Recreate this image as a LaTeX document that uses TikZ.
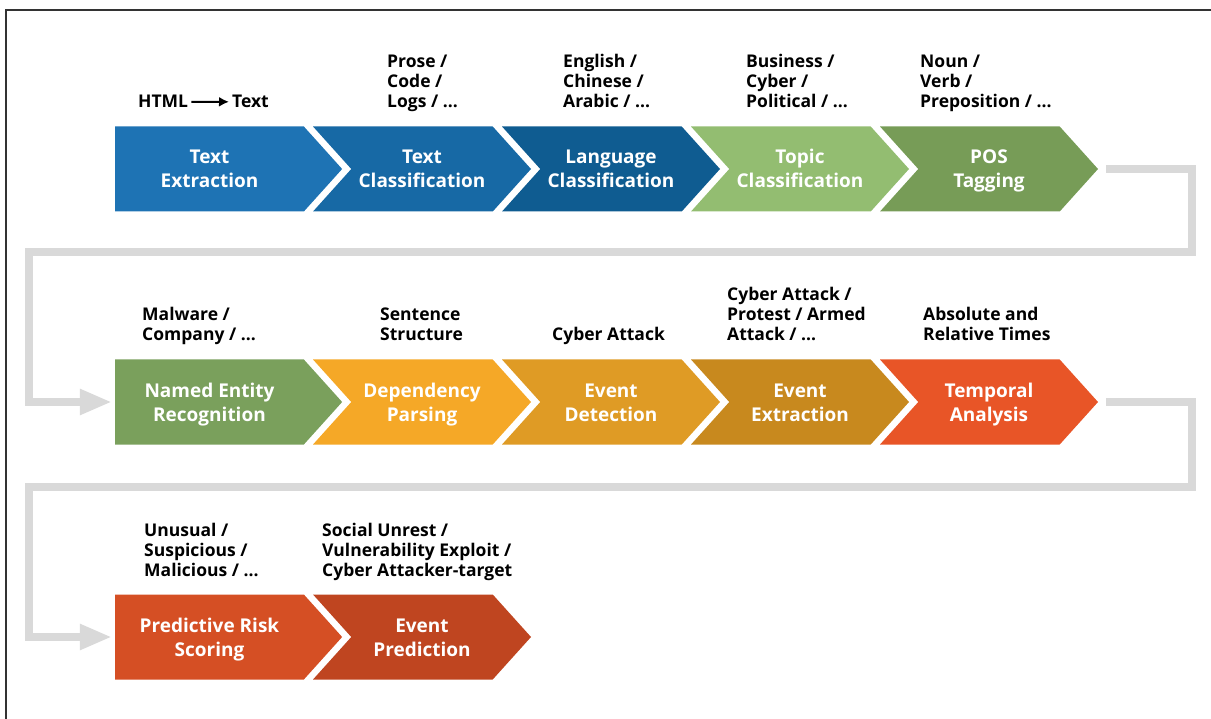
\documentclass[tikz,border=0pt]{standalone}
\usepackage{fontspec}
\setmainfont{Open Sans}
\usetikzlibrary{shapes.symbols,arrows.meta}

\definecolor{cextract}{HTML}{1E73B4}
\definecolor{ctextcls}{HTML}{1769A5}
\definecolor{clang}{HTML}{0F5C91}
\definecolor{ctopic}{HTML}{93BD71}
\definecolor{cpos}{HTML}{779C57}
\definecolor{cner}{HTML}{7AA05C}
\definecolor{cdep}{HTML}{F5A827}
\definecolor{cdetect}{HTML}{DF9B25}
\definecolor{cevext}{HTML}{C8891E}
\definecolor{ctemporal}{HTML}{E85527}
\definecolor{crisk}{HTML}{D54F24}
\definecolor{cpredict}{HTML}{BF4520}
\definecolor{loopgray}{HTML}{D9D9D9}

\begin{document}
\begin{tikzpicture}
  [x=1pt,y=-1pt,
   stage/.style={signal,signal to=east,signal pointer angle=96,
     minimum height=85pt,inner sep=0pt,text=white,align=center,
     text height=38pt,text depth=0pt,
     font=\bfseries\fontsize{19}{24}\selectfont},
   first/.style={stage,signal from=nowhere,minimum width=227pt},
   stagetwo/.style={stage,signal from=west,minimum width=218pt},
   note/.style={anchor=base west,align=left,inner sep=0pt,
     font=\bfseries\fontsize{17.5}{20}\selectfont},
   turn/.style={draw=loopgray,line width=8pt,
     -{Triangle[length=32pt,width=24pt]}}]
  \useasboundingbox (0,0) rectangle (1211,719);
  \draw[line width=2pt,black!80] (5.8,719) -- (5.8,10.3) -- (1211,10.3);

  % first row
  \node[first,fill=cextract] (extract) at (209.5,169) {Text\\Extraction};
  \node[stagetwo,fill=ctextcls] (textcls) at (422,169) {Text\\Classification};
  \node[stagetwo,fill=clang] (lang) at (611,169) {Language\\Classification};
  \node[stagetwo,fill=ctopic] (topic) at (800,169) {Topic\\Classification};
  \node[stagetwo,fill=cpos] (pos) at (989,169) {POS\\Tagging};

  % second row
  \node[first,fill=cner] (ner) at (209.5,402) {Named Entity\\Recognition};
  \node[stagetwo,fill=cdep] (dep) at (422,402) {Dependency\\Parsing};
  \node[stagetwo,fill=cdetect] (detect) at (611,402) {Event\\Detection};
  \node[stagetwo,fill=cevext] (evext) at (800,402) {Event\\Extraction};
  \node[stagetwo,fill=ctemporal] (temporal) at (989,402) {Temporal\\Analysis};

  % third row
  \node[first,fill=crisk] (risk) at (209.5,637) {Predictive Risk\\Scoring};
  \node[stagetwo,fill=cpredict] (predict) at (422,637) {Event\\Prediction};

  % notes above the stages
  \node[note] (htmlN) at (138,108) {HTML};
  \node[note] (textN) at (232,108) {Text};
  \draw[line width=2pt,-{Latex[length=10pt,width=10pt]},shorten <=3pt,shorten >=3pt]
    (htmlN) -- (textN);
  \node[note] (textclsN) at (387,108) {Prose /\\Code /\\Logs / ...};
  \node[note] (langN) at (563,108) {English /\\Chinese /\\Arabic / ...};
  \node[note] (topicN) at (746,108) {Business /\\Cyber /\\Political / ...};
  \node[note] (posN) at (920,108) {Noun /\\Verb /\\Preposition / ...};
  \node[note] (nerN) at (142,341) {Malware /\\Company / ...};
  \node[note] (depN) at (380,341) {Sentence\\Structure};
  \node[note] (detectN) at (552,341) {Cyber Attack};
  \node[note] (evextN) at (727,341) {Cyber Attack /\\Protest / Armed\\Attack / ...};
  \node[note] (temporalN) at (923,341) {Absolute and\\Relative Times};
  \node[note] (riskN) at (144,576) {Unusual /\\Suspicious /\\Malicious / ...};
  \node[note] (predictN) at (322,576) {Social Unrest /\\Vulnerability Exploit /\\Cyber Attacker-target};

  % row to row
  \draw[turn] ([xshift=8pt]pos.east) -| (1192,252) -| (29,402) -- ([xshift=-3pt]ner.west);
  \draw[turn] ([xshift=8pt]temporal.east) -| (1192,487) -| (29,637) -- ([xshift=-3pt]risk.west);

\end{tikzpicture}
\end{document}
